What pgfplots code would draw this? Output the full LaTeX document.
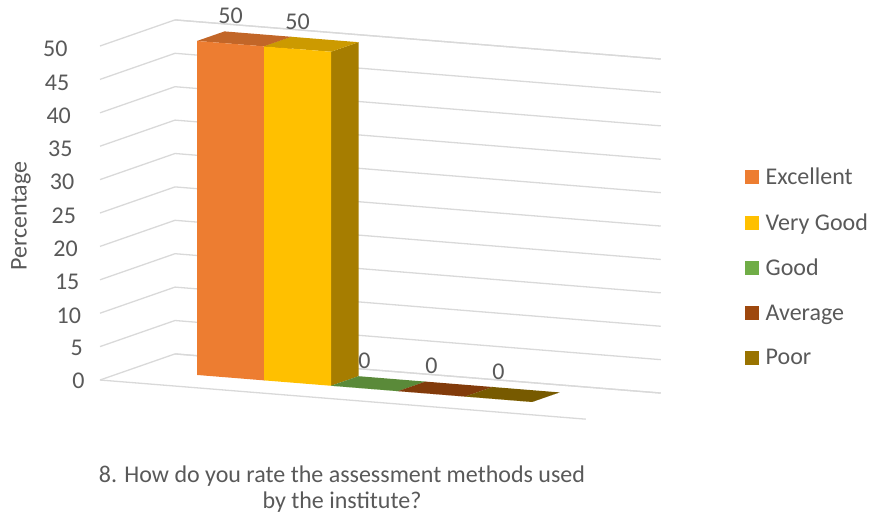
\documentclass[border=0pt]{standalone}
\usepackage{fontspec}
\setmainfont{Carlito}
\usepackage{pgfplots}
\pgfplotsset{compat=1.18}

\definecolor{exc}{HTML}{ED7D31}
\definecolor{vgood}{HTML}{FFC000}
\definecolor{good}{HTML}{70AD47}
\definecolor{avg}{HTML}{9E480E}
\definecolor{poor}{HTML}{997300}
\definecolor{txt}{HTML}{595959}
\definecolor{grd}{HTML}{D9D9D9}

\newcommand{\lblfont}{\fontsize{24}{28}\selectfont}

% one 3d column: left x, right x, value, front/top/side colour
\newcommand{\cuboid}[6]{%
  \addplot3[fill=#6, draw=none, forget plot] coordinates {(#2,1.2,0) (#2,2.3,0) (#2,2.3,#3) (#2,1.2,#3)};
  \addplot3[fill=#5, draw=none, forget plot] coordinates {(#1,1.2,#3) (#2,1.2,#3) (#2,2.3,#3) (#1,2.3,#3)};
  \addplot3[fill=#4, draw=none, forget plot] coordinates {(#1,1.2,0) (#2,1.2,0) (#2,1.2,#3) (#1,1.2,#3)};
  \node[font=\lblfont, text=txt, anchor=base, yshift=20pt, inner sep=0pt] at (axis cs:{(#1+#2)/2},1.2,#3) {#3};
}

\begin{document}
\begin{tikzpicture}
\useasboundingbox (0pt,0pt) rectangle (872pt,-517pt);

\begin{axis}[
  anchor=origin, at={(100pt,-380pt)},
  x={(67pt,-5.4pt)}, y={(25pt,8.7pt)}, z={(0pt,6.68pt)},
  xmin=0, xmax=7.25, ymin=0, ymax=3, zmin=0, zmax=50,
  xtick=\empty, ytick=\empty, ztick={0,5,...,50},
  zmajorgrids=true,
  major grid style={draw=grd, line width=1.3pt},
  x axis line style={draw=grd, line width=1.3pt},
  y axis line style={draw=none},
  z axis line style={draw=none},
  major tick length=0pt,
  no markers,
  clip=false,
  /pgf/number format/assume math mode=true,
  tick label style={font=\lblfont, text=txt},
  z tick label style={xshift=-12pt},
  zticklabel={\pgfmathsetmacro{\zsh}{\tick*0.34}\pgfmathprintnumber{\tick}\hspace*{\zsh pt}},
  legend cell align=left,
  legend image code/.code={\fill[#1, draw=none] (0pt,-7pt) rectangle (14pt,7pt);},
  legend style={at={(1.144,0.64)}, anchor=north west, draw=none, fill=none,
    font=\lblfont, text=txt, row sep=23.5pt,
    /tikz/every odd column/.append style={column sep=5pt}},
]
\cuboid{1}{2}{50}{exc}{exc!82!black}{exc!65!black}
\cuboid{2}{3}{50}{vgood}{vgood!80!black}{vgood!65!black}
\cuboid{3}{4}{0}{good}{good!80!black}{good!65!black}
\cuboid{4}{5}{0}{avg}{avg!82!black}{avg!65!black}
\cuboid{5}{6}{0}{poor}{poor!78!black}{poor!65!black}

\addlegendimage{fill=exc}\addlegendentry{Excellent}
\addlegendimage{fill=vgood}\addlegendentry{Very Good}
\addlegendimage{fill=good}\addlegendentry{Good}
\addlegendimage{fill=avg}\addlegendentry{Average}
\addlegendimage{fill=poor}\addlegendentry{Poor}
\end{axis}

\node[font=\lblfont, text=txt, rotate=90] at (21pt,-216pt) {Percentage};
\node[font=\fontsize{24}{26}\selectfont, text=txt, align=center] at (342pt,-489pt)
  {8. How do you rate the assessment methods used\\by the institute?};
\end{tikzpicture}
\end{document}
